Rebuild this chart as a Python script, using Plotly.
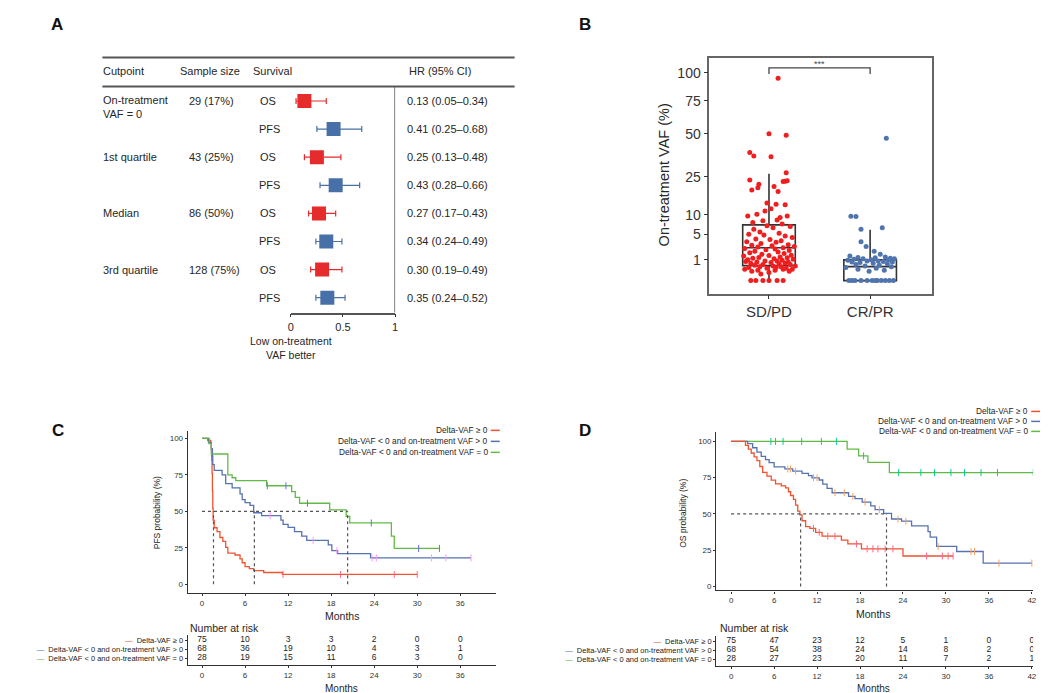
import math
import plotly.graph_objects as go

W, H = 1050, 693
FONT = "Liberation Sans, Arial, sans-serif"
TXT = "#262626"
RED_F = "#E52B2B"
BLUE_F = "#4770A8"
RED_K = "#F0532E"
BLUE_K = "#5772B0"
GREEN_K = "#63B946"

# ---------------- Panel A data ----------------
cutpoints = ["On-treatment<br>VAF = 0", "1st quartile", "Median", "3rd quartile"]
sample_sizes = ["29 (17%)", "43 (25%)", "86 (50%)", "128 (75%)"]
survival = ["OS", "PFS", "OS", "PFS", "OS", "PFS", "OS", "PFS"]
hr = [0.13, 0.41, 0.25, 0.43, 0.27, 0.34, 0.30, 0.35]
hr_lo = [0.05, 0.25, 0.13, 0.28, 0.17, 0.24, 0.19, 0.24]
hr_hi = [0.34, 0.68, 0.48, 0.66, 0.43, 0.49, 0.49, 0.52]

# ---------------- Panel B data ----------------
groups = ["SD/PD", "CR/PR"]
vaf_ticks = [1, 5, 10, 25, 50, 75, 100]
red_vaf = [95, 50, 49, 38, 36, 35.5, 27, 23.5, 22.8, 23.1, 22.9, 21.5, 19, 20, 20.5, 18.4,
           14, 13.3, 13.5, 12, 11.2, 9.7, 10.2, 9.7, 9.2, 8.3, 8.5, 7.8, 7, 7.4, 6.1, 6.5,
           6.8, 5.5, 5, 5.2, 4.6, 4.8, 4.3, 4.0, 3.9, 3.7, 3.5, 3.4, 3.2, 3.0, 2.9, 2.8,
           2.7, 2.6, 2.5, 2.4, 2.3, 2.2, 2.1, 2.0, 1.9, 1.8, 1.7, 1.6, 1.5, 1.45, 1.4, 1.3,
           1.25, 1.2, 1.15, 1.1, 1.05, 1.0, 0.95, 0.9, 0.9, 0.85, 0.8, 0.8, 0.75, 0.7, 0.7,
           0.65, 0.6, 0.6, 0.55, 0.5, 0.5, 0.45, 0.45, 0.4, 0.4, 0.35, 0.35, 0.3, 0.3, 0.3,
           0.25, 0.25, 0.2, 0.2, 0.15, 0.1, 0, 0, 0, 0, 0, 0]
red_jit = [0.09, 0.0, 0.17, -0.19, -0.15, 0.02, 0.17, -0.19, 0.14, 0.18,
           0.16, -0.10, -0.17, -0.11, 0.05, 0.09, -0.02, 0.16, 0.07, 0.02,
           -0.04, -0.21, -0.12, 0.18, 0.11, -0.06, 0.08, -0.16, -0.02, 0.13,
           -0.15, 0.04, 0.21, -0.09, -0.2, 0.1, 0.16, -0.05, 0.23, -0.13,
           0.01, 0.12, -0.22, 0.07, -0.08, 0.19, -0.17, 0.03, 0.25, -0.11,
           0.14, -0.24, 0.06, -0.03, 0.2, -0.14, 0.09, -0.19, 0.15, -0.07,
           0.22, 0.0, -0.25, 0.11, -0.1, 0.18, -0.16, 0.05, 0.24, -0.21,
           0.13, -0.04, 0.08, -0.23, 0.19, -0.12, 0.02, 0.16, -0.18, 0.1,
           -0.06, 0.21, -0.14, 0.04, 0.26, -0.09, 0.12, -0.2, 0.07, 0.17,
           -0.02, -0.24, 0.14, 0.23, -0.11, 0.06, -0.17, 0.2, 0.0, -0.08,
           -0.13, -0.06, 0.0, 0.08, 0.14, -0.18]
blue_vaf = [47, 9.6, 9.5, 6.1, 6.5, 3.5, 2.7, 2.0, 1.6, 1.4, 1.3, 1.25, 1.2, 1.15, 1.1, 1.1,
            1.05, 1.0, 1.0, 0.95, 0.9, 0.9, 0.85, 0.8, 0.8, 0.75, 0.7, 0.65, 0.6, 0.55, 0.5,
            0.45, 0.4, 0.35, 0.3, 0.25, 0.2, 0, 0, 0, 0, 0, 0, 0, 0, 0, 0, 0, 0]
blue_jit = [0.16, -0.19, -0.14, -0.09, 0.12, -0.09, -0.04, 0.04, 0.1, -0.2,
            0.15, -0.12, 0.05, 0.2, -0.07, 0.24, -0.16, 0.01, 0.18, -0.22,
            0.08, -0.03, 0.13, -0.18, 0.22, -0.1, 0.03, 0.17, -0.14, 0.09,
            -0.05, 0.21, -0.24, 0.06, -0.12, 0.14, -0.01,
            -0.21, -0.15, -0.09, -0.03, 0.02, 0.07, 0.11, 0.15, 0.19, 0.23, -0.18, 0.05]
box_q1 = [0.52, 0.0]
box_med = [2.5, 0.45]
box_q3 = [7.2, 1.0]
box_lo = [0.0, 0.0]
box_hi = [26.5, 6.0]
sig_label = "***"

# ---------------- Panel C / D data ----------------
legend_labels = ["Delta-VAF \u2265 0", "Delta-VAF < 0 and on-treatment VAF > 0",
                 "Delta-VAF < 0 and on-treatment VAF = 0"]
risk_times_c = [0, 6, 12, 18, 24, 30, 36]
risk_c = [[75, 10, 3, 3, 2, 0, 0], [68, 36, 19, 10, 4, 3, 1], [28, 19, 15, 11, 6, 3, 0]]
risk_times_d = [0, 6, 12, 18, 24, 30, 36, 42]
risk_d = [[75, 47, 23, 12, 5, 1, 0, 0], [68, 54, 38, 24, 14, 8, 2, 0], [28, 27, 23, 20, 11, 7, 2, 1]]

pfs_red_t = [0, 0.8, 1.2, 1.3, 1.35, 1.4, 1.45, 1.5, 1.55, 1.7, 2.1, 2.5, 2.9, 3.3, 3.6, 4.6,
             5.3, 5.6, 6.0, 6.6, 7.2, 8.6, 11.2]
pfs_red_s = [100, 98.7, 97.3, 92, 85, 76, 64, 52, 44, 38.7, 36, 32, 29.3, 25.3, 21.3, 20,
             17.3, 14.7, 12, 10.7, 9.3, 8, 6.7]
pfs_red_c = [11.3, 19.3, 26.8, 30.0]
pfs_blue_t = [0, 0.9, 1.3, 1.45, 1.5, 1.7, 2.8, 3.3, 4.2, 5.3, 5.6, 6.0, 6.7, 7.2, 8.3, 11.0,
              11.3, 12.0, 12.9, 13.9, 14.6, 17.6, 18.1, 18.9, 23.5]
pfs_blue_s = [100, 97, 93, 88, 82, 78, 75, 69, 66, 62, 58, 56, 54, 49, 47, 44, 41, 39, 36, 33,
              30, 27, 23, 21, 18]
pfs_blue_c = [9.5, 15.5, 18.8, 23.7, 24.3, 32.0, 34.0, 37.5]
pfs_green_t = [0, 1.0, 1.3, 3.6, 4.2, 4.7, 9.0, 12.5, 13.0, 13.6, 17.8, 20.1, 20.6, 26.4, 26.8]
pfs_green_s = [100, 96.4, 89.3, 75, 73, 71, 67.5, 63.5, 59.5, 55.5, 51, 46.5, 42, 33, 24.5]
pfs_green_c = [9.1, 11.7, 14.7, 23.6, 30.2, 33.1]
pfs_medians = [1.6, 7.3, 20.3]

os_red_t = [0, 2.0, 2.4, 2.8, 3.2, 3.6, 4.0, 4.4, 5.0, 5.6, 6.2, 7.0, 7.6, 8.0, 8.3, 8.7, 9.0,
            9.3, 9.6, 9.9, 10.4, 11.0, 11.8, 12.7, 15.4, 16.3, 18.2, 24.0]
os_red_s = [100, 97.3, 94.7, 92, 89.3, 86.7, 82.7, 78.7, 76, 73.3, 70.7, 69.3, 68, 65.3, 62.7,
            60, 56, 52, 49.3, 45.3, 41.3, 40, 37.3, 34.7, 32, 29.3, 25.9, 21]
os_red_c = [11.5, 12.3, 13.5, 14.5, 17.5, 19.0, 19.8, 20.5, 21.5, 22.6, 27.3, 29.5, 30.3, 31.0]
os_blue_t = [0, 2.3, 3.0, 3.6, 4.2, 4.8, 5.3, 6.0, 7.5, 8.6, 9.9, 10.8, 11.3, 12.3, 12.8, 13.4,
             14.1, 16.4, 17.3, 18.3, 19.5, 20.1, 21.3, 22.4, 23.8, 25.2, 27.5, 27.8, 28.7, 31.5, 35.2]
os_blue_s = [100, 98.5, 95.6, 92.6, 89.7, 87.4, 85.3, 82.4, 81, 79.5, 77.9, 76.4, 74.9, 73.4,
             70.5, 67.6, 64.6, 62.1, 60.5, 58.2, 55.6, 53.0, 50.4, 46.5, 45.0, 41.7, 37.8, 34.0,
             27.6, 24.1, 16.1]
os_blue_c = [7.9, 8.3, 9.0, 11.5, 12.0, 14.5, 15.8, 17.0, 18.7, 20.7, 23.3, 24.4, 28.9, 33.5,
             34.0, 37.4, 42.0]
os_green_t = [0, 16.2, 17.8, 19.1, 22.1]
os_green_s = [100, 94.7, 90, 85.5, 78.5]
os_green_c = [5.55, 6.2, 7.25, 9.85, 12.6, 14.7, 18.5, 23.4, 26.5, 28.4, 30.7, 32.6, 34.9, 37.2, 42.2]
os_medians = [9.7, 21.7]


def X(px):
    return px / W


def Y(py):
    return 1 - py / H


fig = go.Figure()
annotations = []
shapes = []


def ann(px, py, text, size=11, xanchor="left", yanchor="middle", bold=False, color=TXT,
        textangle=0, align="left"):
    annotations.append(dict(
        x=X(px), y=Y(py), xref="paper", yref="paper", text=f"<b>{text}</b>" if bold else text,
        showarrow=False, xanchor=xanchor, yanchor=yanchor, textangle=textangle, align=align,
        font=dict(family=FONT, size=size, color=color), borderpad=0))


def pline(x0, y0, x1, y1, color="#555", width=1.0, dash="solid"):
    shapes.append(dict(type="line", xref="paper", yref="paper", x0=X(x0), y0=Y(y0), x1=X(x1),
                       y1=Y(y1), line=dict(color=color, width=width, dash=dash)))


# ---------------- Panel letters ----------------
ann(46, 17, "A", 17, "center", bold=True, color="#111")
ann(578, 17, "B", 17, "center", bold=True, color="#111")
ann(47, 423, "C", 17, "center", bold=True, color="#111")
ann(578, 423, "D", 17, "center", bold=True, color="#111")

# ---------------- Panel A ----------------
pline(92, 49.5, 507, 49.5, "#555", 2)
pline(92, 78.5, 507, 78.5, "#555", 2)
ann(92, 63, "Cutpoint")
ann(169, 63, "Sample size")
ann(243, 63, "Survival")
ann(400, 63, "HR (95% CI)")
row_y = [92.7 + 28.2 * i for i in range(8)]
for i, (c, s) in enumerate(zip(cutpoints, sample_sizes)):
    y0 = row_y[2 * i]
    if "<br>" in c:
        ann(92, y0 - 7.5, c, yanchor="top", align="left")
    else:
        ann(92, y0, c)
    ann(178, y0, s)
for i, sv in enumerate(survival):
    ann(250 if sv == "OS" else 248.5, row_y[i], sv)
    ann(398, row_y[i], f"{hr[i]:.2f} ({hr_lo[i]:.2f}\u2013{hr_hi[i]:.2f})")

for surv_name, col in [("OS", RED_F), ("PFS", BLUE_F)]:
    idx = [i for i, s in enumerate(survival) if s == surv_name]
    fig.add_trace(go.Scatter(
        x=[hr[i] for i in idx], y=idx, mode="markers", xaxis="x", yaxis="y",
        marker=dict(symbol="square", size=14, color=col),
        error_x=dict(type="data", symmetric=False, array=[hr_hi[i] - hr[i] for i in idx],
                     arrayminus=[hr[i] - hr_lo[i] for i in idx], color=col, thickness=1.2,
                     width=3),
        showlegend=False, hoverinfo="skip"))
shapes.append(dict(type="line", xref="x", yref="paper", x0=1, x1=1, y0=Y(305), y1=Y(78.5),
                   line=dict(color="#555", width=1.5)))
ann(282, 333, "Low on-treatment", 10.5, "center")
ann(282, 348, "VAF better", 10.5, "center")

# ---------------- Panel B ----------------
for k, (vals, jit, col) in enumerate([(red_vaf, red_jit, "#F01E1E"), (blue_vaf, blue_jit, "#4F74AE")]):
    fig.add_trace(go.Scatter(
        x=[k + j for j in jit], y=[math.sqrt(v) for v in vals], mode="markers",
        xaxis="x2", yaxis="y2", marker=dict(size=5, color=col), showlegend=False,
        hoverinfo="skip"))
fig.add_trace(go.Box(
    x=[0, 1], q1=[math.sqrt(v) for v in box_q1], median=[math.sqrt(v) for v in box_med],
    q3=[math.sqrt(v) for v in box_q3], lowerfence=[math.sqrt(v) for v in box_lo],
    upperfence=[math.sqrt(v) for v in box_hi], xaxis="x2", yaxis="y2", width=0.52,
    boxpoints=False, fillcolor="rgba(0,0,0,0)", line=dict(color="#333", width=1.6),
    whiskerwidth=0, showlegend=False, hoverinfo="skip"))
yb1, yb2 = 9.95, 10.24
shapes.append(dict(type="path", xref="x2", yref="y2",
                   path=f"M 0,{yb1} L 0,{yb2} L 1,{yb2} L 1,{yb1}",
                   line=dict(color="#444", width=1.3)))
annotations.append(dict(x=0.5, y=Y(56), xref="x2", yref="paper", text=sig_label, showarrow=False,
                        font=dict(family=FONT, size=9, color="#444"), xanchor="center",
                        yanchor="middle"))
ann(657, 167, "On-treatment VAF (%)", 14.5, "center", textangle=-90)

# ---------------- Panels C, D ----------------
def km_trace(t, s, cens, col, xa, ya):
    xs, ys = list(t), list(s)
    end = max(cens) if cens else t[-1]
    if end > xs[-1]:
        xs.append(end)
        ys.append(ys[-1])
    fig.add_trace(go.Scatter(x=xs, y=ys, mode="lines", line=dict(color=col, width=1.3, shape="hv"),
                             xaxis=xa, yaxis=ya, showlegend=False, hoverinfo="skip"))
    cy = []
    for c in cens:
        val = s[0]
        for ti, si in zip(t, s):
            if ti <= c:
                val = si
        cy.append(val)
    fig.add_trace(go.Scatter(x=cens, y=cy, mode="markers",
                             marker=dict(symbol="line-ns-open", size=5, line=dict(color=col, width=1)),
                             xaxis=xa, yaxis=ya, showlegend=False, hoverinfo="skip"))


km_trace(pfs_red_t, pfs_red_s, pfs_red_c, RED_K, "x3", "y3")
km_trace(pfs_blue_t, pfs_blue_s, pfs_blue_c, BLUE_K, "x3", "y3")
km_trace(pfs_green_t, pfs_green_s, pfs_green_c, GREEN_K, "x3", "y3")
km_trace(os_green_t, os_green_s, os_green_c, GREEN_K, "x4", "y4")
km_trace(os_blue_t, os_blue_s, os_blue_c, BLUE_K, "x4", "y4")
km_trace(os_red_t, os_red_s, os_red_c, RED_K, "x4", "y4")

for xa, ya, meds in [("x3", "y3", pfs_medians), ("x4", "y4", os_medians)]:
    shapes.append(dict(type="line", xref=xa, yref=ya, x0=0, x1=max(meds), y0=50, y1=50,
                       line=dict(color="#555", width=1.2, dash="dot")))
    for m in meds:
        shapes.append(dict(type="line", xref=xa, yref=ya, x0=m, x1=m, y0=0, y1=50,
                           line=dict(color="#555", width=1.2, dash="dot")))

ann(147, 506, "PFS probability (%)", 8.5, "center", textangle=-90)
ann(677, 506, "OS probability (%)", 8.5, "center", textangle=-90)
ann(333, 609, "Months", 10.5, "center")
ann(868, 607, "Months", 10.5, "center")

km_cols = [RED_K, BLUE_K, GREEN_K]
for (xr, ys_) in [(481, [423, 434, 445]), (1025, [404, 414, 424])]:
    for lab, yy, col in zip(legend_labels, ys_, km_cols):
        ann(xr, yy, lab, 8.3, "right")
        pline(xr + 2, yy, xr + 11, yy, col, 1.5)

# Risk tables
for xa, ya, times, table in [("x5", "y5", risk_times_c, risk_c), ("x6", "y6", risk_times_d, risk_d)]:
    for r, row in enumerate(table):
        fig.add_trace(go.Scatter(x=times, y=[r] * len(times), mode="text",
                                 text=[str(v) for v in row], xaxis=xa, yaxis=ya,
                                 textfont=dict(family=FONT, size=8.5, color="#222"),
                                 showlegend=False, hoverinfo="skip"))
ann(179, 621, "Number at risk", 10.5)
ann(713, 621, "Number at risk", 10.5)
ann(333, 681, "Months", 10, "center")
ann(868, 681, "Months", 10, "center")

risk_ticktext = [f"<span style='color:{c}'>\u2014</span>  {l}" for c, l in zip(km_cols, legend_labels)]

axis_common = dict(showgrid=False, zeroline=False, showline=True, linecolor="#333", linewidth=1.3,
                   ticks="outside", ticklen=2, tickcolor="#333", tickwidth=1,
                   tickfont=dict(family=FONT, size=8, color="#333"))

layout = dict(
    width=W, height=H, margin=dict(l=0, r=0, t=0, b=0), paper_bgcolor="white",
    plot_bgcolor="rgba(0,0,0,0)", showlegend=False, font=dict(family=FONT, color=TXT),
    xaxis=dict(domain=[X(281.7), X(386.7)], range=[0, 1], anchor="y",
               tickvals=[0, 0.5, 1], ticktext=["0", "0.5", "1"],
               **{**axis_common, "linecolor": "#555", "linewidth": 1.5, "ticklen": 3,
                  "tickfont": dict(family=FONT, size=11, color=TXT)}),
    yaxis=dict(domain=[Y(305), Y(78.5)], range=[7.53, -0.52], visible=False, anchor="x"),
    xaxis2=dict(domain=[X(703), X(927)], range=[-0.59, 1.61], anchor="y2", tickvals=[0, 1],
                ticktext=groups, mirror=True,
                **{**axis_common, "linecolor": "#666", "linewidth": 1.6, "ticklen": 4,
                   "tickfont": dict(family=FONT, size=15, color="#333")}),
    yaxis2=dict(domain=[Y(286), Y(50)], range=[-0.625, 10.72], anchor="x2",
                tickvals=[math.sqrt(v) for v in vaf_ticks], ticktext=[str(v) for v in vaf_ticks],
                mirror=True,
                **{**axis_common, "linecolor": "#666", "linewidth": 1.6, "ticklen": 4,
                   "tickfont": dict(family=FONT, size=14, color="#333")}),
    xaxis3=dict(domain=[X(178), X(488)], range=[-1.98, 40.95], anchor="y3",
                tickvals=risk_times_c, **axis_common),
    yaxis3=dict(domain=[Y(586), Y(424)], range=[-6.16, 104.8], anchor="x3",
                tickvals=[0, 25, 50, 75, 100], **axis_common),
    xaxis4=dict(domain=[X(710), X(1029)], range=[-2.08, 42.18], anchor="y4",
                tickvals=risk_times_d, **axis_common),
    yaxis4=dict(domain=[Y(583.3), Y(425)], range=[-2.75, 106.2], anchor="x4",
                tickvals=[0, 25, 50, 75, 100], **axis_common),
    xaxis5=dict(domain=[X(178), X(488)], range=[-1.98, 40.95], anchor="y5",
                tickvals=risk_times_c, **axis_common),
    yaxis5=dict(domain=[Y(658), Y(628)], range=[2.78, -0.556], anchor="x5", tickvals=[0, 1, 2],
                ticktext=risk_ticktext,
                **{**axis_common, "tickfont": dict(family=FONT, size=7.5, color="#222")}),
    xaxis6=dict(domain=[X(710), X(1029)], range=[-2.08, 42.18], anchor="y6",
                tickvals=risk_times_d, **axis_common),
    yaxis6=dict(domain=[Y(659), Y(629)], range=[2.78, -0.556], anchor="x6", tickvals=[0, 1, 2],
                ticktext=risk_ticktext,
                **{**axis_common, "tickfont": dict(family=FONT, size=7.5, color="#222")}),
    annotations=annotations, shapes=shapes,
)
fig.update_layout(**layout)
fig.write_html("out.html")
